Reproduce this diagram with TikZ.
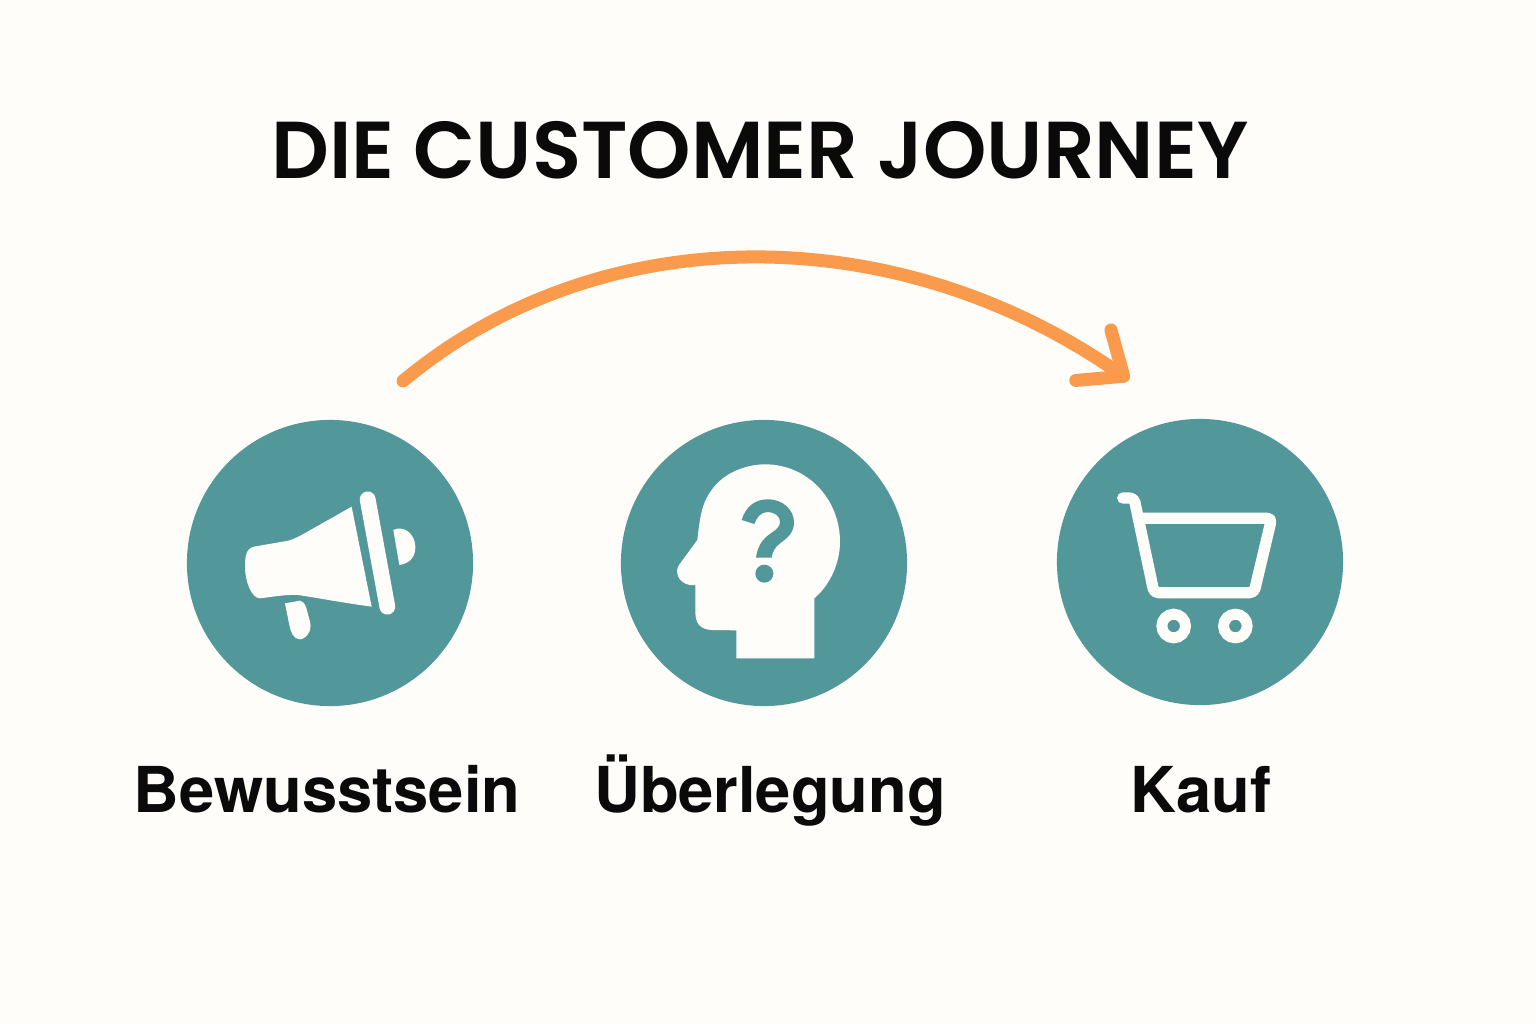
\documentclass[tikz,border=0pt]{standalone}
\usepackage{fontspec}
\setmainfont{Poppins}
\newfontfamily\labelfont{TeX Gyre Heros}
\newfontfamily\titlefont{Poppins}[UprightFont=*-SemiBold]
\usetikzlibrary{arrows.meta}
\definecolor{paper}{HTML}{FEFDFA}
\definecolor{teal}{HTML}{529799}
\definecolor{journey}{HTML}{FA9A4C}
\definecolor{ink}{HTML}{0A0A0A}
\tikzset{
        stagecircle/.style={circle, fill=teal, minimum size=2.86cm, inner sep=0pt},
        stagelabel/.style={anchor=base, text=ink, font=\fontsize{18}{24}\labelfont\bfseries},
        journeyarrow/.style={draw=journey, line width=3.7pt, line cap=round, -{Straight Barb[round, length=10.5pt, width=17.5pt]}},
        iconline/.style={draw=paper, line cap=round, line join=round}
}
\begin{document}
\begin{tikzpicture}[x=0.01cm, y=-0.01cm]
        \useasboundingbox (0,0) rectangle (1536,1024);
        \fill[paper] (0,0) rectangle (1536,1024);
        \node[anchor=base, text=ink, font=\fontsize{22.95}{28}\titlefont] (title) at (760,178) {DIE CUSTOMER JOURNEY};
        \node[stagecircle] (bewusstsein) at (330,563) {};
        \node[stagecircle] (ueberlegung) at (764,563) {};
        \node[stagecircle] (kauf) at (1200,562) {};
        \node[stagelabel] (bewusstseinlabel) at (327,812) {Bewusstsein};
        \node[stagelabel] (ueberlegunglabel) at (770,812) {Überlegung};
        \node[stagelabel] (kauflabel) at (1201,812) {Kauf};
        \coordinate (arcstart) at (403,381);
        \coordinate (arcend) at (1129,380);
        \draw[journeyarrow] (arcstart) .. controls (600,217) and (895,217) .. (arcend);
        \begin{scope}[shift={(180,410)}, scale=1/3]
                \fill[paper] (515,290) -- (575,590) .. controls (500,580) and (420,565) .. (355,555)
                        .. controls (320,553) and (280,560) .. (240,565) .. controls (215,565) and (195,515) .. (195,470)
                        .. controls (195,435) and (200,415) .. (222,410) -- (325,392) .. controls (340,388) and (350,382) .. (365,375) -- cycle;
                \draw[iconline, line width=4.5pt] (563,268) -- (622,590);
                \fill[paper] (640,360) -- (658,465) .. controls (690,460) and (707,440) .. (706,410)
                        .. controls (705,370) and (670,345) .. (640,360) -- cycle;
                \fill[paper] (315,580) -- (360,572) .. controls (378,575) and (380,600) .. (390,635)
                        .. controls (398,665) and (375,688) .. (360,688) .. controls (340,688) and (332,665) .. (328,645) -- cycle;
        \end{scope}
        \begin{scope}[shift={(615,410)}, scale=1/3]
                \fill[paper] (364,745) -- (364,661) -- (290,660) .. controls (255,658) and (241,640) .. (241,605)
                        -- (241,525) -- (225,525) .. controls (190,520) and (178,485) .. (192,465)
                        -- (247,390) .. controls (255,320) and (260,280) .. (290,240)
                        .. controls (320,195) and (385,163) .. (450,163) .. controls (580,163) and (675,270) .. (675,395)
                        .. controls (675,460) and (645,525) .. (598,565) -- (598,745) -- cycle;
                \fill[teal] (380,330) .. controls (392,290) and (420,268) .. (458,268) .. controls (505,268) and (537,300) .. (537,338)
                        .. controls (537,370) and (515,385) .. (495,400) .. controls (480,412) and (472,425) .. (470,443) -- (423,443)
                        .. controls (428,405) and (445,385) .. (470,368) .. controls (485,358) and (495,350) .. (495,335)
                        .. controls (495,318) and (478,306) .. (458,306) .. controls (438,306) and (425,322) .. (418,342) -- cycle;
                \fill[teal] (448,491) circle (27);
        \end{scope}
        \begin{scope}[shift={(1050,410)}, scale=1/3]
                \draw[iconline, line width=3.2pt, rounded corners=1.2pt] (218,264) -- (252,264) -- (312,548) -- (612,548) -- (665,325) -- (265,325);
                \draw[draw=paper, line width=3.1pt] (371,648) circle (35.5);
                \draw[draw=paper, line width=3.1pt] (556,648) circle (35.5);
        \end{scope}
\end{tikzpicture}
\end{document}
